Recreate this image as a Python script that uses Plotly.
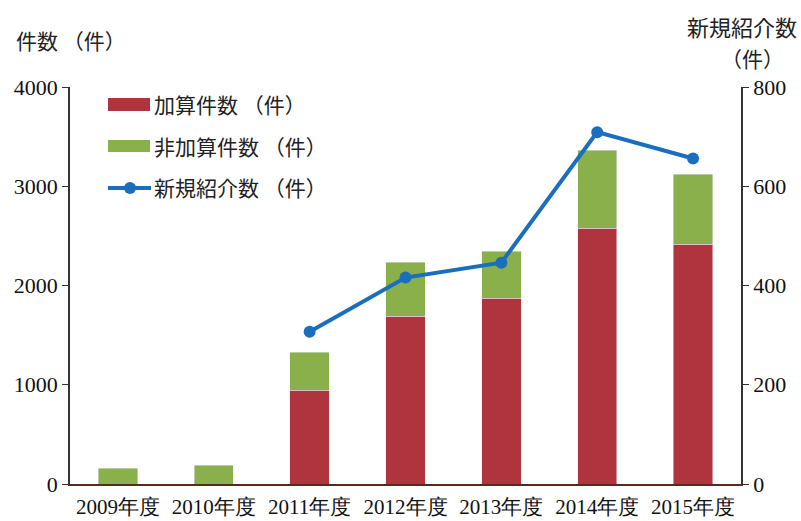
import plotly.graph_objects as go

years = ["2009年度", "2010年度", "2011年度", "2012年度", "2013年度", "2014年度", "2015年度"]
kasan = [0, 0, 945, 1690, 1870, 2575, 2415]
hikasan = [160, 190, 385, 545, 475, 790, 705]
line_years = ["2011年度", "2012年度", "2013年度", "2014年度", "2015年度"]
shinki = [307, 416, 446, 709, 656]

RED = "#B0343E"
GREEN = "#8AB04C"
BLUE = "#1B6EBE"
SERIF = "Liberation Serif, Times New Roman, serif"
JP = "Noto Sans CJK JP, sans-serif"

fig = go.Figure()
fig.add_trace(go.Bar(x=years, y=kasan, name="加算件数（件）", marker_color=RED, showlegend=False))
fig.add_trace(go.Bar(x=years, y=hikasan, name="非加算件数（件）", marker_color=GREEN, showlegend=False))
fig.add_trace(go.Scatter(x=line_years, y=shinki, name="新規紹介数（件）", yaxis="y2",
                         mode="lines+markers", line=dict(color=BLUE, width=4),
                         marker=dict(color=BLUE, size=12), showlegend=False))

W, H = 801, 521
L, R, T, B = 70, 60, 87, 37
pw, ph = W - L - R, H - T - B

def px(x):
    return (x - L) / pw

def py(y):
    return (H - B - y) / ph

shapes = [
    dict(type="rect", xref="paper", yref="paper", x0=px(108), x1=px(150), y0=py(111), y1=py(98),
         fillcolor=RED, line_width=0),
    dict(type="rect", xref="paper", yref="paper", x0=px(108), x1=px(150), y0=py(152), y1=py(140),
         fillcolor=GREEN, line_width=0),
    dict(type="line", xref="paper", yref="paper", x0=px(108), x1=px(151), y0=py(188), y1=py(188),
         line=dict(color=BLUE, width=4)),
    dict(type="circle", xref="paper", yref="paper", x0=px(124), x1=px(136), y0=py(194), y1=py(182),
         fillcolor=BLUE, line_width=0),
]
legend_labels = ["加算件数 （件）", "非加算件数 （件）", "新規紹介数 （件）"]
legend_y = [104, 146, 187]
annotations = []
for lab, yy in zip(legend_labels, legend_y):
    annotations.append(dict(xref="paper", yref="paper", x=px(152), y=py(yy), text=lab,
                            showarrow=False, xanchor="left", yanchor="middle",
                            font=dict(family=JP, size=21, color="#222")))
annotations += [
    dict(xref="paper", yref="paper", x=px(14), y=py(40), text="件数 （件）", showarrow=False,
         xanchor="left", yanchor="middle", font=dict(family=JP, size=21, color="#222")),
    dict(xref="paper", yref="paper", x=px(742), y=py(26), text="新規紹介数", showarrow=False,
         xanchor="center", yanchor="middle", font=dict(family=JP, size=22, color="#222")),
    dict(xref="paper", yref="paper", x=px(752), y=py(58), text="（件）", showarrow=False,
         xanchor="center", yanchor="middle", font=dict(family=JP, size=21, color="#222")),
]

fig.update_layout(
    width=W, height=H,
    margin=dict(l=L, r=R, t=T, b=B),
    paper_bgcolor="white", plot_bgcolor="white",
    barmode="stack", bargap=0.59,
    xaxis=dict(showline=True, linecolor="#5a2a20", linewidth=1.5, ticks="",
               tickfont=dict(family=SERIF, size=21, color="#111"), showgrid=False,
               ticklabelstandoff=3, automargin=False),
    yaxis=dict(range=[0, 4000], tickvals=[0, 1000, 2000, 3000, 4000], showline=True,
               linecolor="#333", linewidth=1.5, ticks="outside", ticklen=6, tickcolor="#333",
               tickfont=dict(family=SERIF, size=22, color="#111"), showgrid=False, zeroline=False,
               automargin=False),
    yaxis2=dict(range=[0, 800], tickvals=[0, 200, 400, 600, 800], overlaying="y", side="right",
                showline=True, linecolor="#333", linewidth=1.5, ticks="outside", ticklen=6,
                tickcolor="#333", tickfont=dict(family=SERIF, size=22, color="#111"),
                showgrid=False, zeroline=False, automargin=False),
    shapes=shapes, annotations=annotations,
)

fig.write_html("out.html")
